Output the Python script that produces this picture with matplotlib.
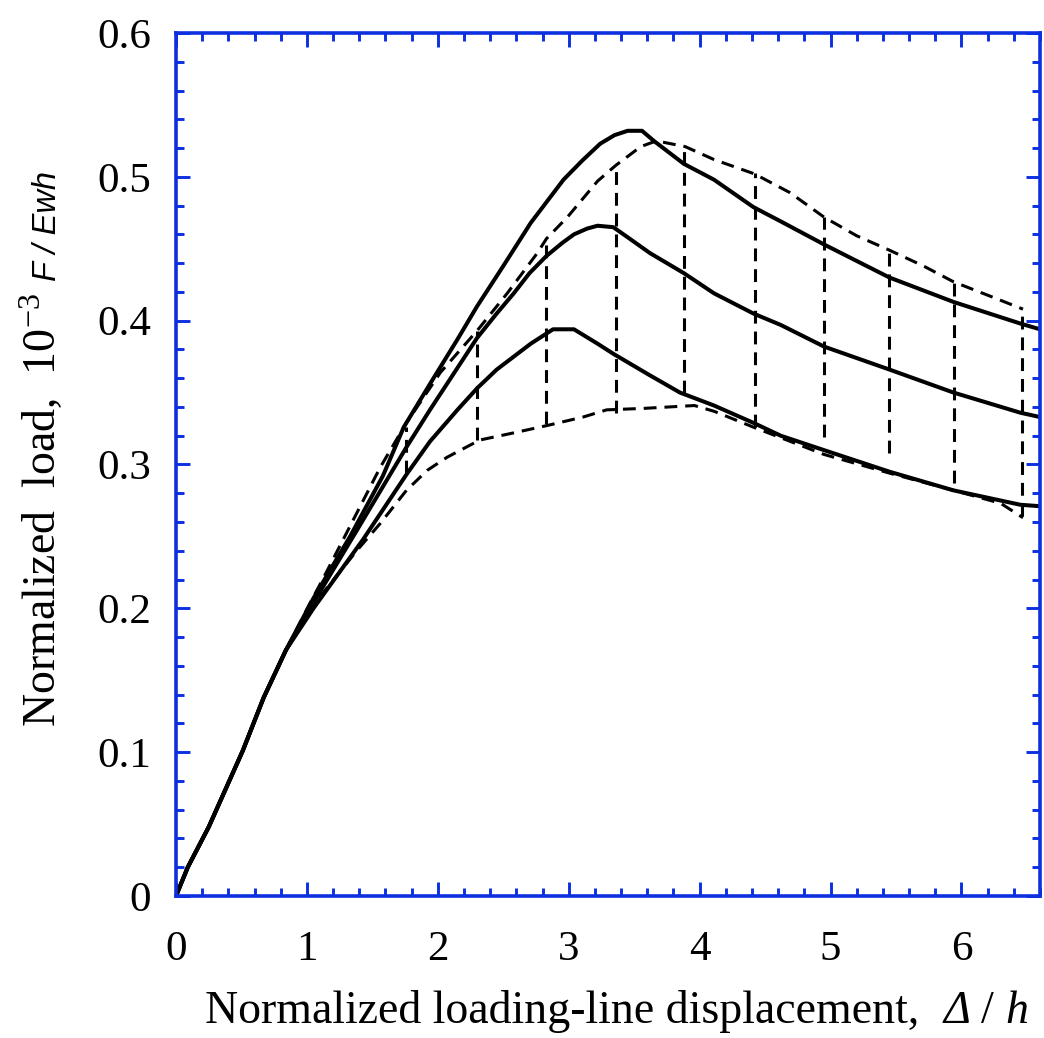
import matplotlib
matplotlib.use("Agg")
import matplotlib.pyplot as plt
from matplotlib.ticker import MultipleLocator

# ---------------- data ----------------
upper_x = [0, 0.09, 0.25, 0.51, 0.67, 0.84, 1.05, 1.33, 1.58, 1.74, 1.94, 2.15, 2.30, 2.50, 2.71,
           2.96, 3.10, 3.24, 3.35, 3.45, 3.56, 3.65, 3.88, 4.11, 4.41, 4.62, 4.95, 5.45, 5.94, 6.45, 6.60]
upper_y = [0, 0.020, 0.048, 0.101, 0.138, 0.171, 0.207, 0.250, 0.292, 0.326, 0.356, 0.387, 0.410, 0.438, 0.468,
           0.498, 0.511, 0.523, 0.529, 0.532, 0.532, 0.525, 0.509, 0.498, 0.479, 0.469, 0.453, 0.430, 0.413, 0.398, 0.394]

middle_x = [0, 0.09, 0.25, 0.51, 0.67, 0.84, 1.05, 1.38, 1.76, 1.94, 2.12, 2.30, 2.45, 2.58, 2.70, 2.83,
            2.95, 3.04, 3.14, 3.22, 3.34, 3.45, 3.62, 3.88, 4.11, 4.41, 4.62, 4.95, 5.45, 5.94, 6.45, 6.60]
middle_y = [0, 0.020, 0.048, 0.101, 0.138, 0.171, 0.204, 0.254, 0.312, 0.338, 0.363, 0.388, 0.405, 0.419, 0.433, 0.445,
            0.454, 0.460, 0.464, 0.466, 0.465, 0.458, 0.447, 0.433, 0.419, 0.405, 0.397, 0.382, 0.366, 0.350, 0.336, 0.333]

lower_x = [0, 0.09, 0.25, 0.51, 0.67, 0.84, 1.05, 1.43, 1.76, 1.94, 2.15, 2.30, 2.45, 2.58, 2.71, 2.88,
           3.04, 3.22, 3.34, 3.62, 3.85, 4.11, 4.41, 4.62, 4.95, 5.45, 5.94, 6.45, 6.60]
lower_y = [0, 0.020, 0.048, 0.101, 0.138, 0.171, 0.200, 0.248, 0.293, 0.316, 0.338, 0.353, 0.366, 0.375, 0.384, 0.394,
           0.394, 0.384, 0.377, 0.362, 0.350, 0.341, 0.329, 0.320, 0.310, 0.295, 0.282, 0.272, 0.271]

upper_dash_x = [0, 0.09, 0.25, 0.51, 0.67, 0.84, 1.02, 1.12, 1.56, 1.76, 2.02, 2.30, 2.53, 2.76, 2.83,
                2.99, 3.22, 3.36, 3.55, 3.67, 3.89, 4.11, 4.42, 4.69, 4.95, 5.20, 5.45, 5.71, 5.94, 6.22, 6.47]
upper_dash_y = [0, 0.020, 0.048, 0.101, 0.138, 0.171, 0.203, 0.220, 0.298, 0.329, 0.364, 0.393, 0.419, 0.447, 0.457,
                0.472, 0.497, 0.508, 0.521, 0.525, 0.521, 0.512, 0.502, 0.489, 0.472, 0.459, 0.449, 0.438, 0.427, 0.417, 0.408]

lower_dash_x = [0, 0.09, 0.25, 0.51, 0.67, 0.84, 1.02, 1.38, 1.56, 1.76, 1.92, 2.07, 2.32, 2.58, 2.83,
                3.11, 3.29, 3.57, 3.96, 4.11, 4.41, 4.95, 5.45, 5.94, 6.30, 6.47]
lower_dash_y = [0, 0.020, 0.048, 0.101, 0.138, 0.171, 0.199, 0.240, 0.259, 0.282, 0.296, 0.305, 0.317, 0.322, 0.327,
                0.333, 0.338, 0.339, 0.341, 0.337, 0.326, 0.307, 0.294, 0.282, 0.273, 0.263]

jump_x = [1.76, 2.30, 2.83, 3.36, 3.88, 4.42, 4.95, 5.45, 5.94, 6.46]
jump_lo = [0.294, 0.317, 0.328, 0.336, 0.350, 0.326, 0.319, 0.308, 0.287, 0.264]
jump_hi = [0.326, 0.393, 0.457, 0.508, 0.521, 0.503, 0.472, 0.449, 0.427, 0.408]

x_ticks = [0, 1, 2, 3, 4, 5, 6]
x_tick_labels = ["0", "1", "2", "3", "4", "5", "6"]
y_ticks = [0, 0.1, 0.2, 0.3, 0.4, 0.5, 0.6]
y_tick_labels = ["0", "0.1", "0.2", "0.3", "0.4", "0.5", "0.6"]

# ---------------- style ----------------
plt.rcParams["font.family"] = ["Liberation Serif", "DejaVu Serif"]
plt.rcParams["mathtext.fontset"] = "custom"
plt.rcParams["mathtext.rm"] = "Liberation Serif"
plt.rcParams["mathtext.it"] = "Liberation Serif:italic"
plt.rcParams["mathtext.bf"] = "Liberation Serif:bold"

W, H = 1044, 1038
DPI = 100
fig = plt.figure(figsize=(W / DPI, H / DPI), dpi=DPI)
ax = fig.add_axes([176 / W, (H - 896) / H, (1040 - 176) / W, (896 - 33) / H])

BLUE = "#0c30e0"
solid_kw = dict(color="black", lw=2.9, solid_joinstyle="round", solid_capstyle="round")
dash_kw = dict(color="black", lw=2.2, linestyle=(0, (4.2, 2.6)))

ax.plot(upper_x, upper_y, **solid_kw)
ax.plot(middle_x, middle_y, **solid_kw)
ax.plot(lower_x, lower_y, **solid_kw)
ax.plot(upper_dash_x, upper_dash_y, **dash_kw)
ax.plot(lower_dash_x, lower_dash_y, **dash_kw)
ax.vlines(jump_x, jump_lo, jump_hi, colors="black", linewidths=2.2, linestyles=(0, (4.2, 2.6)))

ax.set_xlim(0, 6.6)
ax.set_ylim(0, 0.6)
ax.set_xticks(x_ticks)
ax.set_xticklabels(x_tick_labels)
ax.set_yticks(y_ticks)
ax.set_yticklabels(y_tick_labels)
ax.xaxis.set_minor_locator(MultipleLocator(0.2))
ax.yaxis.set_minor_locator(MultipleLocator(0.02))

for s in ax.spines.values():
    s.set_color(BLUE)
    s.set_linewidth(2.6)
ax.tick_params(which="both", direction="in", top=True, right=True, color=BLUE,
               labelcolor="black", labelsize=31)
ax.tick_params(which="major", length=10, width=2.1)
ax.tick_params(which="minor", length=5.5, width=2.1)
ax.tick_params(axis="x", which="major", pad=25)
ax.tick_params(axis="y", which="major", pad=18)

renderer = fig.canvas.get_renderer()

# x label built from pieces (roman text, italic Δ and h)
LABEL_FS = 33
x_pieces = [("Normalized loading-line displacement,", "normal", 0),
            ("Δ", "italic", 24),
            ("/", "normal", 11),
            ("h", "italic", 11)]
cur_x = 205.0
base_y = (H - 1023) / H
for txt, sty, gap in x_pieces:
    cur_x += gap
    t = fig.text(cur_x / W, base_y, txt, style=sty, ha="left", va="baseline", fontsize=LABEL_FS)
    fig.canvas.draw()
    cur_x = t.get_window_extent(renderer=renderer).x1

# y label (built from pieces: serif main part, sans italic quantity)
x_base = 56 / W
t1 = fig.text(x_base, (H - 727) / H, r"Normalized  load,  $10^{-3}$",
              rotation=90, rotation_mode="anchor", ha="left", va="baseline", fontsize=LABEL_FS)
fig.canvas.draw()
bb = t1.get_window_extent(renderer=renderer)
fig.text(x_base, (bb.y1 + 12) / H, "F / Ewh", family=["Liberation Sans", "DejaVu Sans"],
         style="italic", rotation=90, rotation_mode="anchor", ha="left", va="baseline",
         fontsize=23.5)

fig.savefig("out.png", dpi=DPI)
